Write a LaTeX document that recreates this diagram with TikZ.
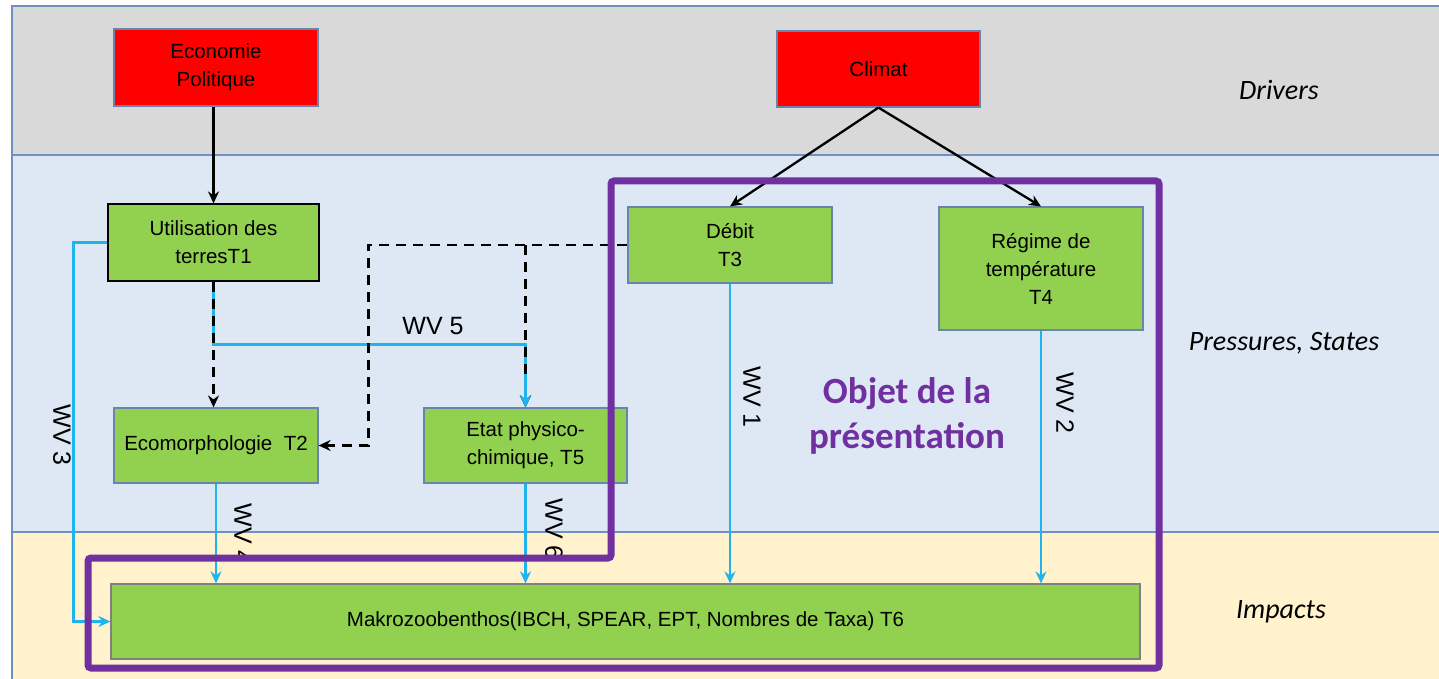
\documentclass[tikz,border=0pt]{standalone}
\usepackage{fontspec}
\setmainfont{Liberation Sans}
\newfontfamily\carlito{Carlito}
\usetikzlibrary{arrows.meta}
\definecolor{bandgray}{HTML}{D9D9D9}
\definecolor{bandblue}{HTML}{DEE8F4}
\definecolor{bandyellow}{HTML}{FFF2CC}
\definecolor{bandline}{HTML}{7090C0}
\definecolor{boxgreen}{HTML}{92D050}
\definecolor{boxborder}{HTML}{6A84AC}
\definecolor{arrblue}{HTML}{1FB4EE}
\definecolor{purp}{HTML}{7030A0}
\tikzset{
  redbox/.style={fill=red, draw=boxborder, line width=1.2pt, inner sep=0pt, align=center,
    font=\fontsize{20.5}{28}\selectfont},
  greenbox/.style={fill=boxgreen, draw=boxborder, line width=1.2pt, inner sep=0pt, align=center,
    font=\fontsize{20.5}{28}\selectfont},
  blk/.style={draw=black, line width=2.3pt, -{Stealth[length=12pt,width=11pt,inset=4pt]}},
  bl/.style={draw=arrblue, line width=2.3pt},
  blarr/.style={bl, -{Stealth[length=12pt,width=11pt,inset=4pt]}},
  dsh/.style={draw=black, line width=2.6pt, dash pattern=on 10pt off 7pt, -{Stealth[length=12pt,width=11pt,inset=4pt]}},
  wv/.style={font=\fontsize{25}{25}\selectfont, inner sep=0pt},
  side/.style={font=\carlito\itshape\fontsize{28}{28}\selectfont, inner sep=0pt}
}
\begin{document}
\begin{tikzpicture}[x=1pt,y=-1pt]
\useasboundingbox (0,0) rectangle (1439,679);
% bands
\fill[white] (0,0) rectangle (1439,679);
\fill[bandgray] (12,6) rectangle (1439,155);
\fill[bandblue] (12,155) rectangle (1439,532);
\fill[bandyellow] (12,532) rectangle (1439,679);
\draw[bandline, line width=1.5pt] (12,679) -- (12,6) -- (1439,6);
\draw[bandline, line width=1.5pt] (12,155) -- (1439,155);
\draw[bandline, line width=1.5pt] (12,532) -- (1439,532);
% side labels
\node[side] (ldrv) at (1279,90) {Drivers};
\node[side] (lps) at (1284,343) {Pressures, States};
\node[side] (limp) at (1281,612) {Impacts};
% nodes
\node[redbox, minimum width=204pt, minimum height=77pt] (eco) at (216,67.5) {Economie\\Politique};
\node[redbox, minimum width=203pt, minimum height=76pt] (clim) at (878.5,69) {Climat};
\node[greenbox, draw=black, minimum width=211pt, minimum height=77pt] (t1) at (213.5,242.5) {Utilisation des\\terresT1};
\node[greenbox, minimum width=204pt, minimum height=76pt] (t3) at (730,245) {Débit\\T3};
\node[greenbox, minimum width=204pt, minimum height=123pt] (t4) at (1041,268.5) {Régime de\\température\\T4};
\node[greenbox, minimum width=204pt, minimum height=75pt] (t2) at (216,445.5) {Ecomorphologie~~T2};
\node[greenbox, minimum width=203pt, minimum height=75pt] (t5) at (525.5,445.5) {Etat physico-\\chimique, T5};
\node[greenbox, draw=gray, minimum width=1029pt, minimum height=75pt] (t6) at (625.5,621.5) {Makrozoobenthos(IBCH, SPEAR, EPT, Nombres de Taxa) T6};
% black arrows
\draw[blk] (eco.south -| t1.south) -- (t1.north);
\draw[blk] (clim.south) -- (t3.north);
\draw[blk] (clim.south) -- (t4.north);
% blue connectors
\draw[blarr] (t1.west) -- ++(-34,0) |- (t6.west);
\draw[blarr] (t1.south) -- ++(0,63) -| (t5.north);
\draw[blarr] (t2.south) -- (t2.south |- t6.north);
\draw[blarr] (t5.south) -- (t5.south |- t6.north);
\draw[blarr] (t3.south) -- (t3.south |- t6.north);
\draw[blarr] (t4.south) -- (t4.south |- t6.north);
% dashed connectors
\draw[dsh] (t1.south) -- (t1.south |- t2.north);
\draw[dsh] (t3.west) -- ++(-259,0) |- (t2.east);
\draw[dsh] (t3.west -| t5.north) -- (t5.north);
\draw[blarr] (t5.north |- 0,380) -- (t5.north);
% WV labels
\node[wv] (wv5) at (433,326) {WV 5};
\node[wv, rotate=-90] (wv3) at (62,435) {WV 3};
\node[wv, rotate=-90] (wv1) at (752,397) {WV 1};
\node[wv, rotate=-90] (wv2) at (1065,403) {WV 2};
\begin{scope}
\clip (0,0) rectangle (1439,555);
\node[wv, rotate=-90] (wv4) at (243,534) {WV 4};
\node[wv, rotate=-90] (wv6) at (554,529) {WV 6};
\end{scope}
% focus frame
\draw[purp, line width=7pt, rounded corners=3pt] (611,181) -- (1159,181) -- (1159,668) -- (88,668) -- (88,558) -- (611,558) -- cycle;
\node[text=purp, align=center, font=\carlito\bfseries\fontsize{37}{45}\selectfont, inner sep=0pt] (obj) at (907,416) {Objet de la\\présentation};
\end{tikzpicture}
\end{document}
